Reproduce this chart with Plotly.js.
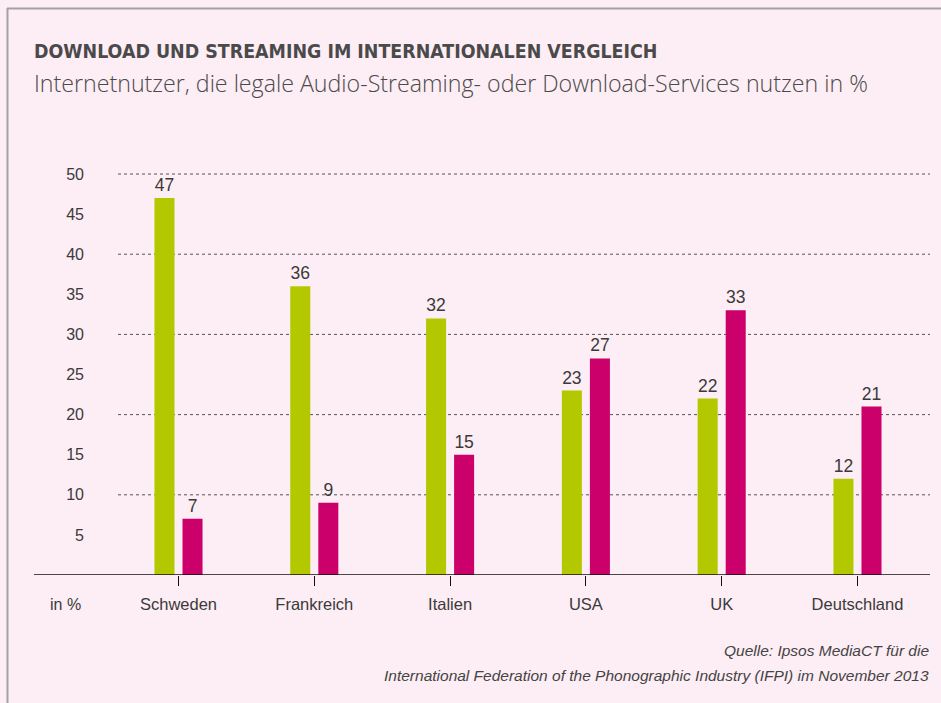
<!DOCTYPE html>
<html>
<head>
<meta charset="utf-8">
<script src="https://cdn.plot.ly/plotly-3.0.1.min.js"></script>
<style>
  html, body { margin: 0; padding: 0; background: #fdedf4; }
  #chart { width: 941px; height: 703px; }
</style>
</head>
<body>
<div id="chart"></div>
<script>
// Data
var categories = ["Schweden", "Frankreich", "Italien", "USA", "UK", "Deutschland"];
var seriesGreen = [47, 36, 32, 23, 22, 12];
var seriesPink = [7, 9, 15, 27, 33, 21];
var yTickVals = [5, 10, 15, 20, 25, 30, 35, 40, 45, 50];
var gridVals = [10, 20, 30, 40, 50];

var W = 941, H = 703;
var ML = 118, MR = 11, MT = 158, MB = 128;
var PW = W - ML - MR, PH = H - MT - MB;
function px2x(px) { return (px - ML) / PW; }
function px2y(py) { return (H - MB - py) / PH; }

var textCol = '#3a3a3a';
var baseFont = 'Liberation Sans, Arial, sans-serif';

var traces = [
  {
    type: 'bar', x: categories, y: seriesGreen, name: 'Download',
    marker: { color: '#b4c800' },
    text: seriesGreen.map(String), textposition: 'outside',
    textfont: { size: 17.5, color: textCol, family: baseFont },
    cliponaxis: false, hoverinfo: 'skip'
  },
  {
    type: 'bar', x: categories, y: seriesPink, name: 'Streaming',
    marker: { color: '#cc006a' },
    text: seriesPink.map(String), textposition: 'outside',
    textfont: { size: 17.5, color: textCol, family: baseFont },
    cliponaxis: false, hoverinfo: 'skip'
  }
];

var shapes = [];
gridVals.forEach(function (v) {
  shapes.push({
    type: 'line', layer: 'below', xref: 'paper', yref: 'y',
    x0: 0, x1: 1, y0: v, y1: v,
    line: { color: '#555555', width: 1, dash: 'dot' }
  });
});
// zero axis line
shapes.push({
  type: 'line', xref: 'paper', yref: 'y',
  x0: px2x(34), x1: 1, y0: 0, y1: 0,
  line: { color: '#111111', width: 1.5 }
});
// frame lines
shapes.push({
  type: 'line', xref: 'paper', yref: 'paper',
  x0: px2x(7), x1: px2x(941), y0: px2y(8.5), y1: px2y(8.5),
  line: { color: '#a3a3a3', width: 2 }
});
shapes.push({
  type: 'line', xref: 'paper', yref: 'paper',
  x0: px2x(7.5), x1: px2x(7.5), y0: px2y(8), y1: px2y(703),
  line: { color: '#a3a3a3', width: 2 }
});

var annotations = [
  {
    xref: 'paper', yref: 'paper', x: px2x(32), y: px2y(51),
    xanchor: 'left', yanchor: 'middle', showarrow: false,
    text: '<b>DOWNLOAD UND STREAMING IM INTERNATIONALEN VERGLEICH</b>',
    font: { family: 'DejaVu Sans Condensed, Liberation Sans Narrow, sans-serif', size: 19.4, color: '#4a4a4a' }
  },
  {
    xref: 'paper', yref: 'paper', x: px2x(32), y: px2y(83),
    xanchor: 'left', yanchor: 'middle', showarrow: false,
    text: 'Internetnutzer, die legale Audio-Streaming- oder Download-Services nutzen in %',
    font: { family: 'Open Sans, sans-serif', size: 23.2, weight: 300, color: '#4a4a4a' }
  },
  {
    xref: 'paper', yref: 'paper', x: px2x(83), y: px2y(604),
    xanchor: 'right', yanchor: 'middle', showarrow: false,
    text: 'in %',
    font: { family: baseFont, size: 16, color: textCol }
  },
  {
    xref: 'paper', yref: 'paper', x: px2x(931), y: px2y(650),
    xanchor: 'right', yanchor: 'middle', showarrow: false,
    text: '<i>Quelle: Ipsos MediaCT für die</i>',
    font: { family: baseFont, size: 15.5, color: '#444444' }
  },
  {
    xref: 'paper', yref: 'paper', x: px2x(931), y: px2y(675),
    xanchor: 'right', yanchor: 'middle', showarrow: false,
    text: '<i>International Federation of the Phonographic Industry (IFPI) im November 2013</i>',
    font: { family: baseFont, size: 15.5, color: '#444444' }
  }
];

var layout = {
  width: W, height: H,
  margin: { l: ML, r: MR, t: MT, b: MB, pad: 0 },
  paper_bgcolor: '#fdedf4', plot_bgcolor: '#fdedf4',
  showlegend: false,
  barmode: 'group', bargap: 0.587, bargroupgap: 0.286,
  font: { family: baseFont, color: textCol },
  xaxis: {
    type: 'category', range: [-0.4455, 5.534],
    showgrid: false, zeroline: false, showline: false,
    ticks: 'outside', ticklen: 10, tickwidth: 1, tickcolor: '#111111',
    ticklabelstandoff: 4,
    tickfont: { size: 16.5, color: textCol, family: baseFont },
    fixedrange: true
  },
  yaxis: {
    range: [0, 52], tickvals: yTickVals,
    showgrid: false, zeroline: false, showline: false, ticks: '',
    ticklabelstandoff: 33,
    tickfont: { size: 16, color: textCol, family: baseFont },
    fixedrange: true
  },
  shapes: shapes,
  annotations: annotations
};

Plotly.newPlot('chart', traces, layout, { displayModeBar: false, staticPlot: true });
</script>
</body>
</html>
